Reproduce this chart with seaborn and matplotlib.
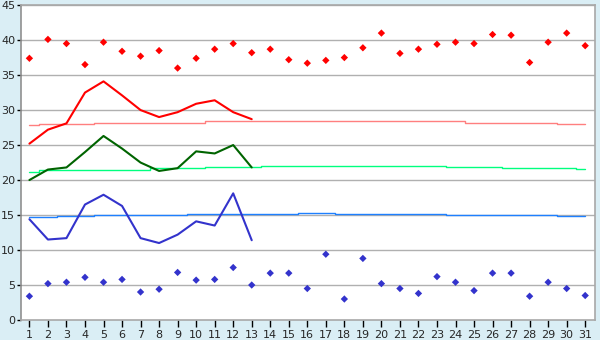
import matplotlib
matplotlib.use("Agg")
import matplotlib.pyplot as plt
import seaborn as sns
import numpy as np

days = list(range(1, 32))
days_obs = list(range(1, 14))

record_max = [37.4, 40.1, 39.5, 36.5, 39.7, 38.4, 37.7, 38.5, 36.0, 37.4, 38.7, 39.5, 38.2,
              38.7, 37.2, 36.7, 37.1, 37.5, 38.9, 41.0, 38.1, 38.7, 39.4, 39.7, 39.5,
              40.8, 40.7, 36.8, 39.7, 41.0, 39.2]
record_min = [3.4, 5.2, 5.4, 6.1, 5.4, 5.8, 4.0, 4.4, 6.8, 5.7, 5.8, 7.5, 5.0,
              6.7, 6.7, 4.5, 9.4, 3.0, 8.8, 5.2, 4.5, 3.8, 6.2, 5.4, 4.2,
              6.7, 6.7, 3.4, 5.4, 4.5, 3.5]

obs_max = [25.2, 27.2, 28.1, 32.5, 34.1, 32.1, 30.0, 29.0, 29.7, 30.9, 31.4, 29.7, 28.7]
obs_mean = [20.0, 21.5, 21.8, 24.0, 26.3, 24.5, 22.5, 21.3, 21.7, 24.1, 23.8, 25.0, 21.8]
obs_min = [14.4, 11.5, 11.7, 16.5, 17.9, 16.3, 11.7, 11.0, 12.2, 14.1, 13.5, 18.1, 11.4]

normal_max = [27.8, 27.95, 27.95, 27.95, 28.1, 28.1, 28.1, 28.2, 28.2, 28.2,
              28.4, 28.4, 28.4, 28.4, 28.4, 28.4, 28.4, 28.4, 28.4, 28.4,
              28.4, 28.4, 28.4, 28.4, 28.2, 28.2, 28.2, 28.1, 28.1, 27.95, 27.95]
normal_mean = [21.2, 21.4, 21.4, 21.4, 21.5, 21.5, 21.5, 21.7, 21.7, 21.7,
               21.85, 21.85, 21.85, 22.0, 22.0, 22.0, 22.0, 22.0, 22.0, 22.0,
               22.0, 22.0, 22.0, 21.85, 21.85, 21.85, 21.7, 21.7, 21.7, 21.7, 21.55]
normal_min = [14.67, 14.67, 14.81, 14.81, 14.95, 14.95, 14.95, 14.95, 14.95, 15.1,
              15.1, 15.1, 15.1, 15.1, 15.1, 15.24, 15.24, 15.1, 15.1, 15.1,
              15.1, 15.1, 15.1, 14.95, 14.95, 14.95, 14.95, 14.95, 14.95, 14.81, 14.81]

yticks = [0, 5, 10, 15, 20, 25, 30, 35, 40, 45]

sns.set_style("white")
plt.rcParams['font.family'] = ['DejaVu Sans']

bg = "#DAEEF5"
fig = plt.figure(figsize=(6, 3.4), dpi=100, facecolor=bg)
ax = fig.add_axes([0.0345, 0.0588, 0.9575, 0.9262])
ax.set_facecolor("white")

for y in yticks[1:]:
    ax.axhline(y, color="#B0B0B0", lw=1.0, zorder=0)

sns.lineplot(x=days, y=normal_max, ax=ax, color="#FF7F7F", lw=1.0, drawstyle="steps-mid", zorder=2)
sns.lineplot(x=days, y=normal_mean, ax=ax, color="#00FF7F", lw=1.0, drawstyle="steps-mid", zorder=2)
sns.lineplot(x=days, y=normal_min, ax=ax, color="#1E80FF", lw=1.0, drawstyle="steps-mid", zorder=2)

sns.lineplot(x=days_obs, y=obs_max, ax=ax, color="#FF0000", lw=1.5, zorder=3)
sns.lineplot(x=days_obs, y=obs_mean, ax=ax, color="#006400", lw=1.5, zorder=3)
sns.lineplot(x=days_obs, y=obs_min, ax=ax, color="#3333CC", lw=1.5, zorder=3)

sns.scatterplot(x=days, y=record_max, ax=ax, color="#FF0000", marker="D", s=14, edgecolor="none", zorder=4)
sns.scatterplot(x=days, y=record_min, ax=ax, color="#3333CC", marker="D", s=14, edgecolor="none", zorder=4)

ax.set_xlim(0.53, 31.54)
ax.set_ylim(0, 45)
ax.set_xticks(days)
ax.set_xticklabels([str(d) for d in days])
ax.set_yticks(yticks)
ax.set_yticklabels([str(v) for v in yticks])
ax.tick_params(axis="x", direction="out", length=5, width=1, color="#000000", labelsize=8, pad=2, bottom=True)
ax.tick_params(axis="y", direction="out", length=3, width=1, color="#000000", labelsize=8, pad=1, left=True)

for side in ["left", "bottom", "right", "top"]:
    ax.spines[side].set_visible(True)
    ax.spines[side].set_color("#A8A8A8")
    ax.spines[side].set_linewidth(1.2)
ax.spines["left"].set_color("#909090")
ax.set_xlabel("")
ax.set_ylabel("")
if ax.get_legend():
    ax.get_legend().remove()

fig.savefig("out.png", dpi=100, facecolor=bg)
